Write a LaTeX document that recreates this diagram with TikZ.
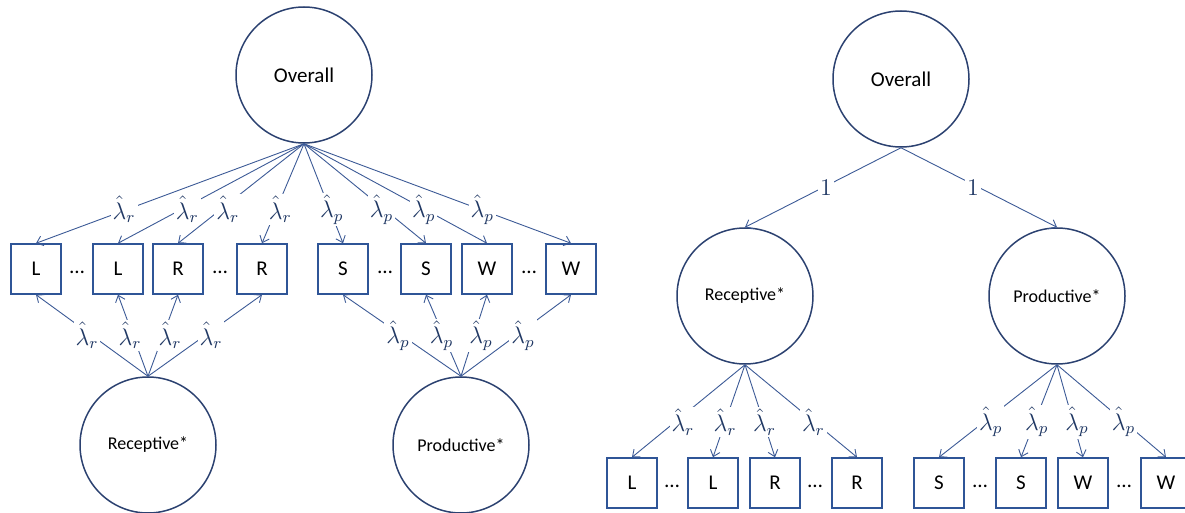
\documentclass[tikz,border=0pt]{standalone}
\usepackage{fontspec}
\setmainfont{Carlito}
\usetikzlibrary{arrows.meta}
\definecolor{circ}{HTML}{2B4170}
\definecolor{boxc}{HTML}{2F5597}
\definecolor{linec}{HTML}{3C5A96}
\definecolor{labc}{HTML}{203864}
\begin{document}
\begin{tikzpicture}[x=0.5pt,y=-0.5pt,
 latent/.style={circle,draw=circ,line width=0.75pt,minimum size=68pt,inner sep=0pt,font=\fontsize{10.5}{12}\selectfont},
 latsm/.style={latent,font=\fontsize{9}{11}\selectfont},
 obs/.style={rectangle,draw=boxc,line width=0.75pt,minimum size=25pt,inner sep=0pt,font=\fontsize{10.5}{12}\selectfont},
 dotsn/.style={inner sep=0pt,font=\fontsize{10.5}{12}\selectfont},
 conn/.style={draw=linec,line width=0.45pt,-{Straight Barb[length=3pt,width=5pt]}},
 lab/.style={fill=white,inner sep=1pt,text=labc,font=\fontsize{12}{14}\selectfont,xshift={(#1)*0.5pt}},
 lab/.default=0
]
\useasboundingbox (0,0) rectangle (1185,513);
% ---------- left diagram ----------
\node[latent] (O1) at (304,75) {Overall};
\node[latsm] (RC1) at (148,445) {Receptive*};
\node[latsm] (PC1) at (461,445) {Productive*};
\node[obs] (aL1) at (36,269) {L};
\node[obs] (aL2) at (118,269) {L};
\node[obs] (aR1) at (178,269) {R};
\node[obs] (aR2) at (262,269) {R};
\node[obs] (aS1) at (343,269) {S};
\node[obs] (aS2) at (426,269) {S};
\node[obs] (aW1) at (487,269) {W};
\node[obs] (aW2) at (571,269) {W};
\node[dotsn] (ad1) at (77,272) {…};
\node[dotsn] (ad2) at (220,272) {…};
\node[dotsn] (ad3) at (385,272) {…};
\node[dotsn] (ad4) at (529,272) {…};
\foreach \b/\s in {aL1/-3,aL2/6,aR1/7,aR2/4}{
  \draw[conn] (O1.south) -- node[lab=\s,pos=.66]{$\hat{\lambda}_r$} (\b.north);
}
\foreach \b/\s in {aL1/-5,aL2/-3,aR1/7,aR2/6}{
  \draw[conn] (RC1.north) -- node[lab=\s,pos=.5]{$\hat{\lambda}_r$} (\b.south);
}
\foreach \b/\s in {aS1/2,aS2/-3,aW1/-1,aW2/2}{
  \draw[conn] (O1.south) -- node[lab=\s,pos=.66]{$\hat{\lambda}_p$} (\b.north);
}
\foreach \b/\s in {aS1/-4,aS2/-2,aW1/7,aW2/7}{
  \draw[conn] (PC1.north) -- node[lab=\s,pos=.5]{$\hat{\lambda}_p$} (\b.south);
}
% ---------- right diagram ----------
\node[latent] (O2) at (901,79) {Overall};
\node[latsm] (RC2) at (745,296) {Receptive*};
\node[latsm] (PC2) at (1057,296) {Productive*};
\node[obs] (bL1) at (632,483) {L};
\node[obs] (bL2) at (713,483) {L};
\node[obs] (bR1) at (775,483) {R};
\node[obs] (bR2) at (857,483) {R};
\node[obs] (bS1) at (939,483) {S};
\node[obs] (bS2) at (1021,483) {S};
\node[obs] (bW1) at (1083,483) {W};
\node[obs] (bW2) at (1166,483) {W};
\node[dotsn] (bd1) at (672,486) {…};
\node[dotsn] (bd2) at (815,486) {…};
\node[dotsn] (bd3) at (980,486) {…};
\node[dotsn] (bd4) at (1124,486) {…};
\draw[conn] (O2.south) -- node[lab=3,pos=.5]{$1$} (RC2.north);
\draw[conn] (O2.south) -- node[lab=-6,pos=.5]{$1$} (PC2.north);
\foreach \b/\s in {bL1/8,bL2/0,bR1/1,bR2/-1}{
  \draw[conn] (RC2.south) -- node[lab=\s,pos=.62]{$\hat{\lambda}_r$} (\b.north);
}
\foreach \b/\s in {bS1/7,bS2/2,bW1/4,bW2/-1}{
  \draw[conn] (PC2.south) -- node[lab=\s,pos=.62]{$\hat{\lambda}_p$} (\b.north);
}
\end{tikzpicture}
\end{document}
